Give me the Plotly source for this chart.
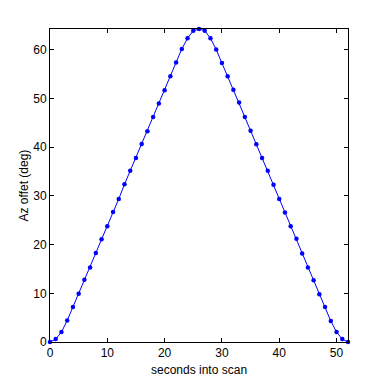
import plotly.graph_objects as go

seconds = list(range(0, 53))
az_offset = [0.0, 0.6, 2.05, 4.4, 7.2, 9.9, 12.8, 15.3, 18.3, 21.1, 23.8, 26.7, 29.4,
             32.4, 35.2, 37.8, 40.7, 43.3, 46.2, 49.0, 51.7, 54.6, 57.4, 60.2, 62.4,
             63.95, 64.3, 63.95, 62.4, 60.1, 57.3, 54.6, 51.8, 49.2, 46.2, 43.4, 40.6,
             37.8, 35.2, 32.3, 29.4, 26.6, 23.8, 21.2, 18.2, 15.3, 12.7, 9.8, 7.2, 4.3,
             2.05, 0.6, 0.0]
x_ticks = [0, 10, 20, 30, 40, 50]
y_ticks = [0, 10, 20, 30, 40, 50, 60]
x_label = "seconds into scan"
y_label = "Az offet (deg)"

FONT = dict(family="Liberation Sans, Arial, sans-serif", size=12, color="black")

fig = go.Figure(go.Scatter(
    x=seconds, y=az_offset, mode="lines+markers",
    line=dict(color="#0000FF", width=1),
    marker=dict(color="#0000FF", size=4.5, symbol="circle"),
    showlegend=False, cliponaxis=False,
))

axis_common = dict(
    showgrid=False, zeroline=False, showline=True, linecolor="black", linewidth=1,
    mirror="ticks", ticks="inside", ticklen=4, tickcolor="black", tickwidth=1,
    tickfont=FONT, automargin=False,
)

fig.update_layout(
    width=384, height=384,
    paper_bgcolor="white", plot_bgcolor="white",
    margin=dict(l=50, r=36, t=29, b=42),
    xaxis=dict(range=[0, 52], tickvals=x_ticks, **axis_common),
    yaxis=dict(range=[0, 64.3], tickvals=y_ticks, **axis_common),
    annotations=[
        dict(text=x_label, xref="paper", yref="paper", x=0.5, y=-0.0879,
             xanchor="center", yanchor="middle", showarrow=False, font=FONT),
        dict(text=y_label, xref="paper", yref="paper", x=-0.0906, y=0.5,
             xanchor="center", yanchor="middle", textangle=-90, showarrow=False, font=FONT),
    ],
)

fig.write_html("out.html", config={"displayModeBar": False},
               post_script="document.body.style.margin='0';document.body.style.padding='0';")
